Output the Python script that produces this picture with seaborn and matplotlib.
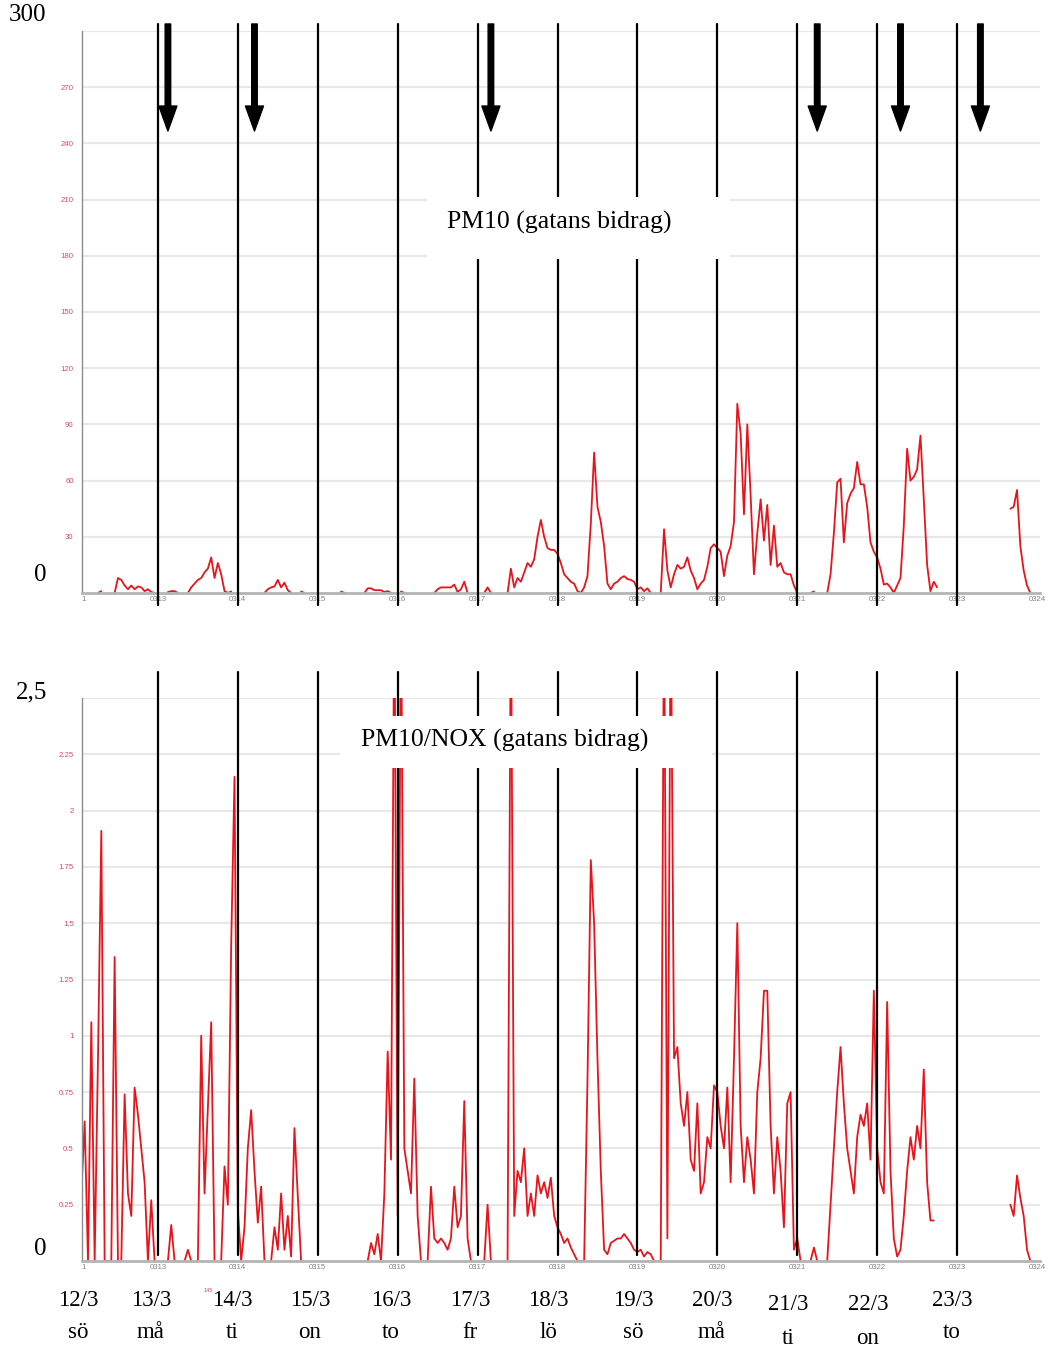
import numpy as np
import pandas as pd
import matplotlib
matplotlib.use("Agg")
import matplotlib.pyplot as plt
from matplotlib.patches import Rectangle
import seaborn as sns

nan = np.nan

# Day labels under the lower panel
dates = ["12/3", "13/3", "14/3", "15/3", "16/3", "17/3",
         "18/3", "19/3", "20/3", "21/3", "22/3", "23/3"]
weekdays = ["sö", "må", "ti", "on", "to", "fr", "lö", "sö", "må", "ti", "on", "to"]

# Logger tick labels on the time axis
x_tick_labels = ["1", "0313", "0314", "0315", "0316", "0317", "0318",
                 "0319", "0320", "0321", "0322", "0323", "0324"]

# Hours (from 12/3 00:00) marked with arrows in the PM10 panel
arrow_hours = [27, 53, 124, 222, 247, 271]

# Hourly PM10, street contribution (µg/m3), one list per day 12/3 .. 23/3
pm10_by_day = [
    [nan, nan, nan, nan, nan, nan, 0, 1, nan, nan, nan, 0, 8, 7, 4, 2, 4, 2, 3.5, 3, 1, 2, 0.5, 0],
    [nan, nan, nan, 0.5, 1, 1, 0, nan, nan, 0, 3, 5, 7, 8, 11, 13, 19, 8, 16, 10, 1, 0, 0.8, nan],
    [nan, nan, nan, nan, nan, nan, nan, nan, 0, 2, 3, 3.5, 7, 3, 5.5, 1.5, 0, nan, nan, 0.8, 0, nan, nan, nan],
    [nan, nan, nan, nan, nan, nan, nan, 0.8, 0, nan, nan, nan, nan, nan, 0, 2.5, 2.5, 1.5, 1.5, 1.5, 0.5, 1, 0, nan],
    [nan, 0.8, 0, nan, nan, nan, nan, nan, nan, nan, nan, 0, 2, 3, 3, 3, 3, 4.5, 0.5, 2, 6, 0, nan, nan],
    [nan, nan, 0, 3, 0, nan, nan, nan, nan, 0, 13, 3, 8, 6, 11, 16, 14, 18, 30, 39, 30, 24, 23, 23],
    [21, 16, 10, 8, 6, 5, 1, 0, 3, 9, 37, 75, 46, 38, 25, 5, 2, 5, 6, 8, 9, 7.5, 7, 6],
    [2, 3, 1, 2.5, 0, nan, nan, 0, 34, 12, 3, 10, 15, 13, 14, 19, 12, 8, 2, 5, 7, 14, 24, 26],
    [24, 22, 9, 20, 25, 38, 101, 85, 42, 90, 52, 10, 32, 50, 28, 47, 15, 36, 14, 16, 11, 10, 10, 4],
    [0, nan, nan, nan, 0, 0.8, nan, nan, nan, 0, 10, 32, 59, 61, 27, 48, 53, 56, 70, 58, 58, 46, 27, 22],
    [19, 13, 4.5, 5, 3, 0, 4, 8, 36, 77, 60, 62, 66, 84, 50, 15, 1, 6, 3, nan, nan, nan, nan, nan],
    [nan, nan, nan, nan, nan, nan, nan, nan, nan, nan, nan, nan, nan, nan, nan, nan, 45, 46, 55, 25, 12, 4, 0, nan],
]

# Hourly PM10/NOX ratio, street contribution, one list per day 12/3 .. 23/3
ratio_by_day = [
    [0, 0.3, 0.62, 0, 1.06, 0, 0.9, 1.91, 0, 0, 0, 1.35, 0, 0, 0.74, 0.3, 0.2, 0.77, 0.65, 0.5, 0.35, 0, 0.27, 0],
    [nan, nan, nan, 0, 0.16, 0, nan, nan, 0, 0.05, 0, nan, 0, 1.0, 0.3, 0.68, 1.06, 0, nan, 0, 0.42, 0.25, 1.4, 2.15],
    [0.23, 0, 0.15, 0.5, 0.67, 0.4, 0.17, 0.33, 0, nan, 0, 0.15, 0.05, 0.3, 0.05, 0.2, 0.02, 0.59, 0.29, 0, nan, nan, nan, nan],
    [nan, nan, nan, nan, nan, nan, nan, nan, nan, nan, nan, nan, nan, nan, nan, 0, 0.08, 0.03, 0.12, 0, 0.3, 0.93, 0.45, 3.0],
    [0.2, 3.0, 0.5, 0.4, 0.3, 0.81, 0.2, 0, nan, 0, 0.33, 0.1, 0.08, 0.1, 0.08, 0.05, 0.1, 0.33, 0.15, 0.2, 0.71, 0.1, 0, nan],
    [nan, nan, 0, 0.25, 0, nan, nan, nan, nan, 0, 3.0, 0.2, 0.4, 0.35, 0.5, 0.2, 0.3, 0.2, 0.38, 0.3, 0.35, 0.28, 0.37, 0.2],
    [0.15, 0.12, 0.08, 0.1, 0.06, 0.03, 0, 0, 0, 0.8, 1.78, 1.5, 0.9, 0.4, 0.05, 0.03, 0.08, 0.09, 0.1, 0.1, 0.12, 0.1, 0.08, 0.05],
    [0.04, 0.05, 0.02, 0.04, 0.03, 0, nan, 0, 3.0, 0.1, 3.0, 0.9, 0.95, 0.7, 0.6, 0.75, 0.45, 0.4, 0.7, 0.3, 0.35, 0.55, 0.5, 0.78],
    [0.75, 0.6, 0.5, 0.77, 0.35, 0.9, 1.5, 0.6, 0.35, 0.55, 0.45, 0.3, 0.75, 0.9, 1.2, 1.2, 0.6, 0.3, 0.55, 0.4, 0.15, 0.7, 0.75, 0.05],
    [0.1, 0, nan, nan, 0, 0.06, 0, nan, nan, 0, 0.25, 0.5, 0.75, 0.95, 0.7, 0.5, 0.4, 0.3, 0.55, 0.65, 0.6, 0.7, 0.45, 1.2],
    [0.5, 0.35, 0.3, 1.15, 0.4, 0.1, 0.02, 0.05, 0.2, 0.4, 0.55, 0.45, 0.6, 0.5, 0.85, 0.35, 0.18, 0.18, nan, nan, nan, nan, nan, nan],
    [nan, nan, nan, nan, nan, nan, nan, nan, nan, nan, nan, nan, nan, nan, nan, nan, 0.25, 0.2, 0.38, 0.28, 0.2, 0.05, 0, nan],
]


def to_frame(by_day):
    values = np.concatenate([np.asarray(d, dtype=float) for d in by_day])
    hours = np.arange(values.size)
    seg = np.cumsum(np.isnan(values))  # new segment after every gap
    df = pd.DataFrame({"hour": hours, "value": values, "seg": seg})
    return df.dropna()


pm10_df = to_frame(pm10_by_day)
ratio_df = to_frame(ratio_by_day)

sns.set_style("white")
plt.rcParams["font.family"] = ["Liberation Sans", "DejaVu Sans"]

W, H = 1049, 1349
fig = plt.figure(figsize=(W / 100, H / 100), dpi=100)
fig.patch.set_facecolor("white")


def px_rect(x0, y0, x1, y1):
    return [x0 / W, 1 - y1 / H, (x1 - x0) / W, (y1 - y0) / H]


def fig_text(x, y, s, size, **kw):
    kw.setdefault("family", ["Liberation Serif", "DejaVu Serif"])
    fig.text(x / W, 1 - y / H, s, fontsize=size, ha="center", va="center",
             color="black", zorder=5, **kw)


RED = "#e8141b"
TICK_RED = "#e04860"
XLIM = (1.2, 288.9)

ax1 = fig.add_axes(px_rect(82, 31, 1040, 593))
ax2 = fig.add_axes(px_rect(82, 698, 1040, 1261))

panels = [
    (ax1, pm10_df, (0, 300), list(range(30, 271, 30)),
     [str(v) for v in range(30, 271, 30)], (-0.022, 1.0125)),
    (ax2, ratio_df, (0, 2.5), [0.25, 0.5, 0.75, 1, 1.25, 1.5, 1.75, 2, 2.25],
     ["0.25", "0.5", "0.75", "1", "1.25", "1.5", "1.75", "2", "2.25"], (0.0107, 1.046)),
]

for ax, df, ylim, yt, ytl, vspan in panels:
    ax.set_facecolor("white")
    sns.lineplot(data=df, x="hour", y="value", units="seg", estimator=None,
                 color=RED, lw=1.3, sort=False, legend=False, ax=ax, zorder=2)
    ax.set_xlim(*XLIM)
    ax.set_ylim(*ylim)
    ax.set_xlabel("")
    ax.set_ylabel("")
    # light horizontal grid
    for v in yt + [ylim[1]]:
        ax.axhline(v, color="#e8e8e8", lw=1.6, zorder=0)
    ax.set_yticks(yt)
    ax.set_yticklabels(ytl)
    ax.tick_params(axis="y", labelsize=5.6, labelcolor=TICK_RED, color="#b0b0b0",
                   length=4, width=0.8, pad=2)
    ax.set_xticks([1.6] + [24 * k for k in range(1, 13)])
    ax.set_xticklabels(x_tick_labels)
    ax.tick_params(axis="x", labelsize=5.6, labelcolor="#858585", color="#a0a0a0",
                   length=3, width=0.7, direction="inout", pad=1)
    for s in ("top", "right"):
        ax.spines[s].set_visible(False)
    ax.spines["left"].set_color("#8c8c8c")
    ax.spines["left"].set_linewidth(1.0)
    ax.spines["bottom"].set_color("#b4b4b4")
    ax.spines["bottom"].set_linewidth(2.0)
    # midnight separators
    for k in range(1, 12):
        ax.axvline(24 * k, ymin=vspan[0], ymax=vspan[1], color="black",
                   lw=1.6, clip_on=False, zorder=3)

# arrows in the PM10 panel
for h in arrow_hours:
    ax1.annotate("", xy=(h, 0.822), xytext=(h, 1.0125),
                 xycoords=("data", "axes fraction"),
                 textcoords=("data", "axes fraction"),
                 arrowprops=dict(facecolor="black", edgecolor="black",
                                 width=4.0, headwidth=13, headlength=18, shrink=0),
                 annotation_clip=False, zorder=4)

# white label boxes on top of the panels
fig.patches.append(Rectangle((427 / W, 1 - 259 / H), (730 - 427) / W, (259 - 197) / H,
                             transform=fig.transFigure, facecolor="white",
                             edgecolor="none", zorder=4))
fig.patches.append(Rectangle((340 / W, 1 - 768 / H), (712 - 340) / W, (768 - 716) / H,
                             transform=fig.transFigure, facecolor="white",
                             edgecolor="none", zorder=4))

fig_text(559, 222, "PM10 (gatans bidrag)", 18.5)
fig_text(505, 740, "PM10/NOX (gatans bidrag)", 18.5)

# axis end values
fig_text(27, 15, "300", 18)
fig_text(40, 575, "0", 18)
fig_text(32, 692, "2,5", 18)
fig_text(40, 1249, "0", 18)

# date and weekday rows
date_x = [78, 151, 232, 310, 391, 470, 548, 633, 712, 788, 868, 952]
date_y = [1300] * 9 + [1305, 1305, 1300]
day_y = [1333] * 9 + [1338, 1338, 1333]
for x, yd, yw, d, w in zip(date_x, date_y, day_y, dates, weekdays):
    fig_text(x, yd, d, 16.5)
    fig_text(x, yw, w, 16.5)

fig.text(208 / W, 1 - 1290 / H, "145", fontsize=4, color=TICK_RED,
         ha="center", va="center")

fig.savefig("out.png", dpi=100, facecolor="white")
